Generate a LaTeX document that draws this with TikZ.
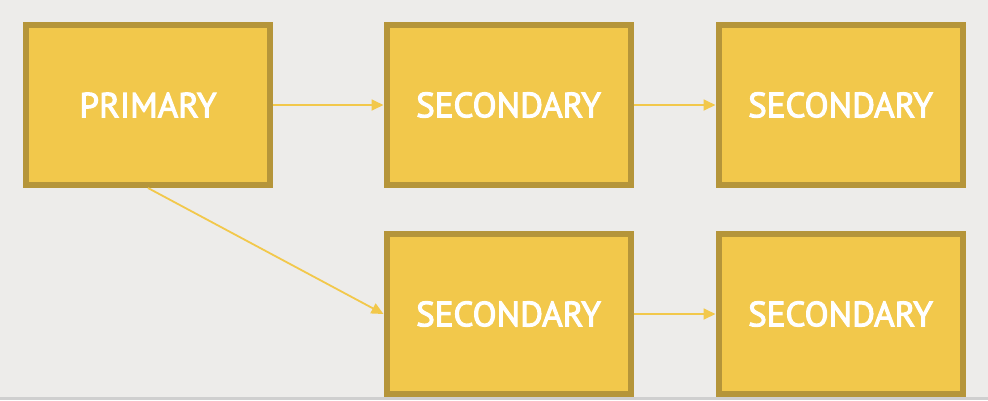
\documentclass[tikz,border=0pt]{standalone}
\usepackage{fontspec}
\setmainfont{PT Sans}
\newfontfamily\boxfont[FakeBold=3]{PT Sans}
\usetikzlibrary{arrows.meta}
\definecolor{bg}{HTML}{EDECEA}
\definecolor{boxfill}{HTML}{F2C84B}
\definecolor{boxline}{HTML}{B5953A}
\definecolor{strip}{HTML}{CFCFCF}
\tikzset{
  box/.style={rectangle, fill=boxfill, draw=boxline, line width=6pt,
    minimum width=244pt, minimum height=160pt, inner sep=0pt,
    text=white, font=\boxfont\fontsize{35}{40}\selectfont},
  conn/.style={draw=boxfill, line width=1.8pt, -{Triangle[length=12pt,width=11pt]}}
}
\begin{document}
\begin{tikzpicture}[x=1pt,y=-1pt]
\fill[bg] (0,0) rectangle (988,400);
\useasboundingbox (0,0) rectangle (988,400);
\fill[strip] (0,397) rectangle (988,400);
\node[box] (p) at (148,105) {\raisebox{-1.5pt}{PRIMARY}};
\node[box] (s1) at (508.5,105) {\raisebox{-1.5pt}{SECONDARY}};
\node[box] (s2) at (840.5,105) {\raisebox{-1.5pt}{SECONDARY}};
\node[box] (s3) at (508.5,314) {\raisebox{-1.5pt}{SECONDARY}};
\node[box] (s4) at (840.5,314) {\raisebox{-1.5pt}{SECONDARY}};
\draw[conn] (p.east) -- (s1.west);
\draw[conn] (s1.east) -- (s2.west);
\draw[conn] (p.south) -- (s3.west);
\draw[conn] (s3.east) -- (s4.west);
\end{tikzpicture}
\end{document}
